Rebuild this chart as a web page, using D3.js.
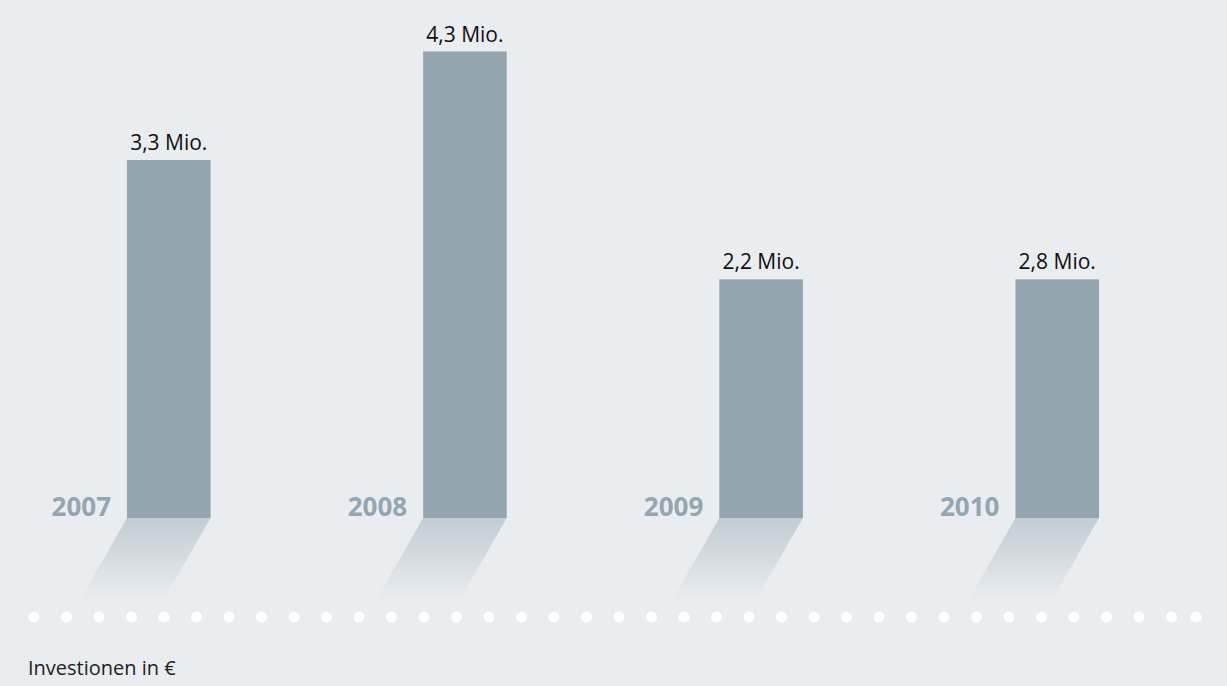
<!DOCTYPE html>
<html>
<head>
<meta charset="utf-8">
<script src="https://cdn.jsdelivr.net/npm/d3@7"></script>
<style>
html,body{margin:0;padding:0;background:#e9edf0;}
svg{display:block;}
text{font-family:"Open Sans","Noto Sans",sans-serif;}
</style>
</head>
<body>
<svg id="chart" width="1227" height="686"></svg>
<script>
// Data
const years = ["2007", "2008", "2009", "2010"];
// bar heights as drawn in the picture (million €)
const barValues = [3.3, 4.3, 2.2, 2.2];
const valueLabels = ["3,3 Mio.", "4,3 Mio.", "2,2 Mio.", "2,8 Mio."];
const caption = "Investionen in €";

const W = 1227, H = 686;
const svg = d3.select("#chart");
const bg = "#e9edf0", barColor = "#93a5ae", yearColor = "#94a6af";

svg.append("rect").attr("width", W).attr("height", H).attr("fill", bg);

const baseY = 518;
const x = d3.scaleBand().domain(years).range([127, 1099]).paddingInner(0.718).paddingOuter(0);
const y = d3.scaleLinear().domain([0, 4.3]).range([baseY, 51.5]);

const defs = svg.append("defs");
const grad = defs.append("linearGradient").attr("id", "shadow").attr("x1", 0).attr("y1", 0).attr("x2", 0).attr("y2", 1);
grad.append("stop").attr("offset", "0%").attr("stop-color", "#c2ccd2");
grad.append("stop").attr("offset", "100%").attr("stop-color", bg);

const data = years.map((yr, i) => ({ year: yr, v: barValues[i], label: valueLabels[i] }));
const shadowDepth = 82, shadowShift = 47;

// shadows
svg.selectAll("path.shadow").data(data).enter().append("path")
  .attr("class", "shadow")
  .attr("fill", "url(#shadow)")
  .attr("d", d => {
    const x0 = x(d.year), x1 = x0 + x.bandwidth();
    return `M${x0},${baseY}L${x1},${baseY}L${x1 - shadowShift},${baseY + shadowDepth}L${x0 - shadowShift},${baseY + shadowDepth}Z`;
  });

// bars
svg.selectAll("rect.bar").data(data).enter().append("rect")
  .attr("class", "bar")
  .attr("x", d => x(d.year))
  .attr("width", x.bandwidth())
  .attr("y", d => y(d.v))
  .attr("height", d => baseY - y(d.v))
  .attr("fill", barColor);

// value labels
svg.selectAll("text.val").data(data).enter().append("text")
  .attr("class", "val")
  .attr("x", d => x(d.year) + x.bandwidth() / 2)
  .attr("y", d => y(d.v) - 10)
  .attr("text-anchor", "middle")
  .attr("font-size", 21)
  .attr("fill", "#111")
  .text(d => d.label);

// year labels
svg.selectAll("text.year").data(data).enter().append("text")
  .attr("class", "year")
  .attr("x", d => x(d.year) - 16)
  .attr("y", baseY - 2)
  .attr("text-anchor", "end")
  .attr("font-size", 26)
  .attr("font-weight", "bold")
  .attr("fill", yearColor)
  .text(d => d.year);

// dotted line
const dots = d3.range(36).map(i => 34 + i * 32.5).concat([1196]);
svg.selectAll("circle.dot").data(dots).enter().append("circle")
  .attr("cx", d => d).attr("cy", 617).attr("r", 5.5).attr("fill", "#ffffff");

// caption
svg.append("text").attr("x", 28).attr("y", 675).attr("font-size", 20).attr("fill", "#222").text(caption);
</script>
</body>
</html>
